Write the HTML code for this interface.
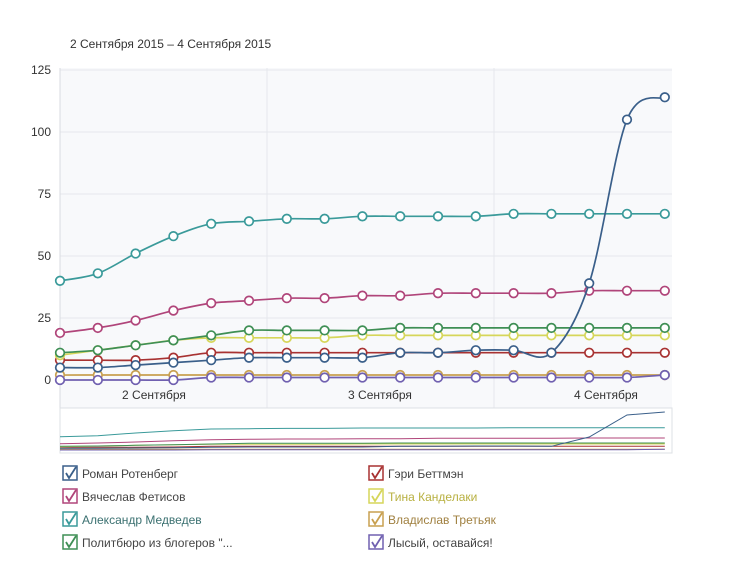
<!DOCTYPE html>
<html><head><meta charset="utf-8"><style>
body{margin:0;background:#fff;font-family:"Liberation Sans",sans-serif;}
svg text{font-family:"Liberation Sans",sans-serif;}
</style></head><body>
<svg id="c" width="730" height="562" xmlns="http://www.w3.org/2000/svg">
<rect width="730" height="562" fill="#fff"/>
<text x="70" y="48" font-size="12" fill="#333">2 Сентября 2015 – 4 Сентября 2015</text>
<rect x="60" y="68" width="612" height="340" fill="#f8f9fb"/>
<g stroke="#e6e8ec" stroke-width="1">
<line x1="60" y1="70" x2="672" y2="70"/><line x1="60" y1="132" x2="672" y2="132"/>
<line x1="60" y1="194" x2="672" y2="194"/><line x1="60" y1="256" x2="672" y2="256"/>
<line x1="60" y1="318" x2="672" y2="318"/>
<line x1="267" y1="68" x2="267" y2="408"/><line x1="494" y1="68" x2="494" y2="408"/>
</g>
<line x1="60" y1="68" x2="60" y2="408" stroke="#d8dbe0"/>
<g font-size="12" fill="#333" text-anchor="end">
<text x="51" y="74">125</text><text x="51" y="136">100</text><text x="51" y="198">75</text>
<text x="51" y="260">50</text><text x="51" y="322">25</text><text x="51" y="384">0</text>
</g>
<g font-size="12" fill="#333" text-anchor="middle">
<text x="154" y="399">2 Сентября</text><text x="380" y="399">3 Сентября</text><text x="606" y="399">4 Сентября</text>
</g>
<rect x="60" y="408" width="612" height="45" fill="#fff" stroke="#dde0e4"/>
<g id="series"></g>
<g id="nav"></g>
<g id="legend" font-size="12"></g>
</svg>
<script>
var X=[];for(var i=0;i<17;i++)X.push(60+i*37.8);
var S=[
["#c8a050",[2,2,2,2,2,2,2,2,2,2,2,2,2,2,2,2,2],"Владислав Третьяк"],
["#7060b0",[0,0,0,0,1,1,1,1,1,1,1,1,1,1,1,1,2],"Лысый, оставайся!"],
["#a83232",[8,8,8,9,11,11,11,11,11,11,11,11,11,11,11,11,11],"Гэри Беттмэн"],
["#d6d65a",[10,12,14,16,17,17,17,17,18,18,18,18,18,18,18,18,18],"Тина Канделаки"],
["#3f8f55",[11,12,14,16,18,20,20,20,20,21,21,21,21,21,21,21,21],"Политбюро из блогеров \"..."],
["#b0457a",[19,21,24,28,31,32,33,33,34,34,35,35,35,35,36,36,36],"Вячеслав Фетисов"],
["#3a9a9a",[40,43,51,58,63,64,65,65,66,66,66,66,67,67,67,67,67],"Александр Медведев"],
["#3a5f8a",[5,5,6,7,8,9,9,9,9,11,11,12,12,11,39,105,114],"Роман Ротенберг"]
];
function path(xs,ys){var d="M"+xs[0]+" "+ys[0];for(var i=0;i<xs.length-1;i++){var p0=i?i-1:i,p3=i+2<xs.length?i+2:i+1;
var c1x=xs[i]+(xs[i+1]-xs[p0])/6,c1y=ys[i]+(ys[i+1]-ys[p0])/6,c2x=xs[i+1]-(xs[p3]-xs[i])/6,c2y=ys[i+1]-(ys[p3]-ys[i])/6;
d+=" C"+c1x.toFixed(1)+" "+c1y.toFixed(1)+" "+c2x.toFixed(1)+" "+c2y.toFixed(1)+" "+xs[i+1].toFixed(1)+" "+ys[i+1].toFixed(1);}return d;}
var h="",n="";
S.forEach(function(s){var ys=s[1].map(function(v){return 380-v*2.48;});
h+='<path d="'+path(X,ys)+'" fill="none" stroke="'+s[0]+'" stroke-width="1.7"/>';
X.forEach(function(x,i){h+='<circle cx="'+x+'" cy="'+ys[i]+'" r="4.3" fill="#fff" stroke="'+s[0]+'" stroke-width="1.7"/>';});
var ny=s[1].map(function(v){return 450-v*0.333;});
var d="M"+X.map(function(x,i){return x.toFixed(1)+" "+ny[i].toFixed(1);}).join(" L");
n+='<path d="'+d+'" fill="none" stroke="'+s[0]+'" stroke-width="1"/>';});
document.getElementById("series").innerHTML=h;document.getElementById("nav").innerHTML=n;
var L=[["Роман Ротенберг","#3a5f8a","#444",0,0],["Вячеслав Фетисов","#b0457a","#444",0,1],["Александр Медведев","#3a9a9a","#3a7070",0,2],["Политбюро из блогеров \"...","#3f8f55","#444",0,3],
["Гэри Беттмэн","#a83232","#444",1,0],["Тина Канделаки","#d6d65a","#b8b040",1,1],["Владислав Третьяк","#c8a050","#a08040",1,2],["Лысый, оставайся!","#7060b0","#444",1,3]];
var g="";L.forEach(function(l){var x=l[3]?369:63,y=466+l[4]*23;
g+='<rect x="'+x+'" y="'+y+'" width="14" height="14" fill="#fff" stroke="'+l[1]+'" stroke-width="1.5"/>';
g+='<path d="M'+(x+3)+' '+(y+7)+' L'+(x+6)+' '+(y+12)+' L'+(x+13)+' '+(y+1)+'" fill="none" stroke="'+l[1]+'" stroke-width="1.8"/>';
g+='<text x="'+(x+19)+'" y="'+(y+12)+'" fill="'+l[2]+'">'+l[0]+'</text>';});
document.getElementById("legend").innerHTML=g;
</script>
</body></html>
